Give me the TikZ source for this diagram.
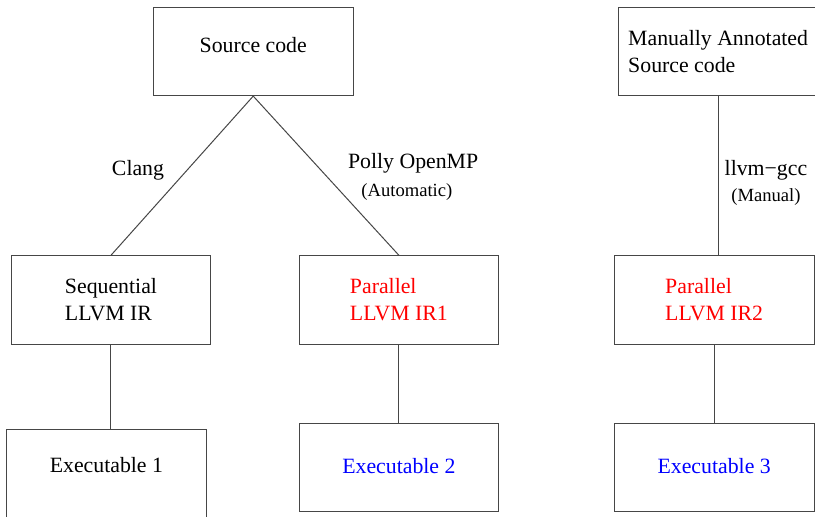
\documentclass[tikz,border=0pt]{standalone}
\usepackage{fontspec}
\setmainfont{Liberation Serif}
\usepackage{xcolor}
\usepackage{tikz}
\usetikzlibrary{positioning, calc}
\definecolor{cinza}{RGB}{70,70,70}
\definecolor{vermelho}{RGB}{255,0,0}
\definecolor{azul}{RGB}{0,0,255}

\begin{document}
\begin{tikzpicture}[
    caixa/.style={draw=cinza, line width=0.5pt, minimum width=3.51cm, minimum height=1.55cm, inner sep=0pt, align=left, font=\fontsize{10.9}{13.6}\selectfont},
    liga/.style={line width=0.5pt, cinza},
    rotulo/.style={inner sep=0pt, font=\fontsize{10.9}{13.6}\selectfont},
    rotulop/.style={inner sep=0pt, font=\fontsize{9.3}{11}\selectfont}
  ]
    \useasboundingbox (0,0) rectangle (14.322,-9.068);

    \node[caixa, text depth=6.2pt] (fonte) at (4.45,-0.905) {Source code};
    \node[caixa] (manual) at (12.62,-0.905) {Manually Annotated\\Source code};

    \node[caixa] (seq) at (1.95,-5.27) {Sequential\\LLVM IR};
    \node[caixa, text=vermelho] (par1) at (7.01,-5.27) {Parallel\\LLVM IR1};
    \node[caixa, text=vermelho] (par2) at (12.55,-5.27) {Parallel\\LLVM IR2};

    \node[caixa, text depth=8.7pt] (exe1) at (1.87,-8.33) {Executable 1};
    \node[caixa, text=azul, text depth=2.2pt] (exe2) at (7.01,-8.22) {Executable 2};
    \node[caixa, text=azul, text depth=2.2pt] (exe3) at (12.55,-8.22) {Executable 3};

    \draw[liga] (fonte.south) -- (seq.north);
    \draw[liga] (fonte.south) -- (par1.north);
    \draw[liga] (manual.south) -- (manual.south |- par2.north);
    \draw[liga] (seq.south) -- (seq.south |- exe1.north);
    \draw[liga] (par1.south) -- (exe2.north);
    \draw[liga] (par2.south) -- (exe3.north);

    \node[rotulo] (clang) at (2.425,-2.987) {Clang};
    \node[rotulo] (polly) at (7.26,-2.864) {Polly OpenMP};
    \node[rotulop] (auto) at (7.15,-3.374) {(Automatic)};
    \node[rotulo] (gcc) at (13.46,-2.987) {llvm−gcc};
    \node[rotulop] (manu) at (13.46,-3.462) {(Manual)};
  \end{tikzpicture}
\end{document}
